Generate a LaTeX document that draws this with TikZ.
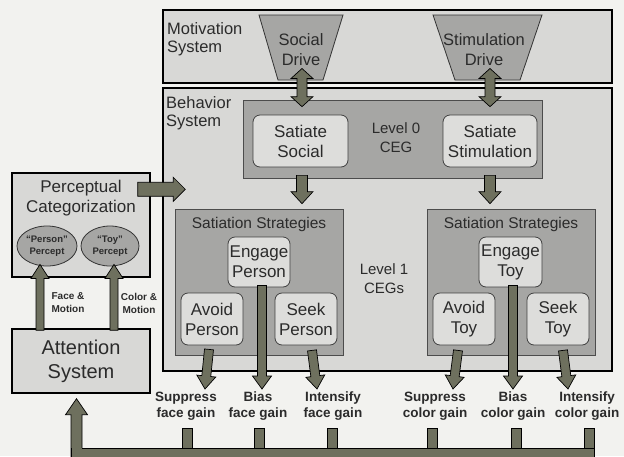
\documentclass[tikz,border=0pt]{standalone}
\usepackage{fontspec}
\setmainfont{Liberation Sans}
\usetikzlibrary{calc,shapes.geometric,positioning}

\definecolor{pagebg}{HTML}{F2F2EF}
\definecolor{sysgray}{HTML}{D8D8D6}
\definecolor{cegray}{HTML}{A6A6A4}
\definecolor{behgray}{HTML}{DDDDDB}
\definecolor{arrowfill}{HTML}{6E705E}
\definecolor{inkgray}{HTML}{2B2B2B}

\tikzset{
  sysbox/.style={draw=black, line width=1.4pt, fill=sysgray, inner sep=0pt},
  cegbox/.style={draw=black!70, line width=0.7pt, fill=cegray, inner sep=0pt},
  behbox/.style={draw=black!75, line width=0.8pt, fill=behgray, rounded corners=7pt,
    inner sep=0pt, align=center, text=inkgray, font=\fontsize{17}{20}\selectfont},
  drive/.style={draw=black!80, line width=0.8pt, fill=cegray},
  percept/.style={ellipse, draw=black!80, line width=0.8pt, fill=cegray, inner sep=0pt,
    align=center, text=inkgray, font=\bfseries\fontsize{9.5}{12}\selectfont},
  heading/.style={inner sep=0pt, align=left, text=inkgray, font=\fontsize{16.5}{18}\selectfont},
  drivetxt/.style={inner sep=0pt, align=center, text=inkgray, font=\fontsize{16.5}{20}\selectfont},
  ceglbl/.style={inner sep=0pt, align=center, text=inkgray, font=\fontsize{15}{19}\selectfont},
  strattitle/.style={inner sep=0pt, text=inkgray, font=\fontsize{15.5}{18}\selectfont},
  gainlbl/.style={inner sep=0pt, align=center, text=inkgray, font=\bfseries\fontsize{13.5}{16}\selectfont},
  pathlbl/.style={inner sep=0pt, align=center, text=inkgray, font=\bfseries\fontsize{10}{13}\selectfont},
  fatarrow/.style={fill=arrowfill, draw=black, line width=0.7pt, line join=miter}
}

% fat arrow: start, tip, shaft half width, head half width, head length
\newcommand{\fatarrow}[5]{%
  \coordinate (fa-a) at (#1);
  \coordinate (fa-e) at (#2);
  \coordinate (fa-b) at ($(fa-e)!#5!(fa-a)$);
  \filldraw[fatarrow] ($(fa-a)!#3!90:(fa-e)$) -- ($(fa-b)!#3!-90:(fa-a)$)
    -- ($(fa-b)!#4!-90:(fa-a)$) -- (fa-e) -- ($(fa-b)!#4!90:(fa-a)$)
    -- ($(fa-b)!#3!90:(fa-a)$) -- ($(fa-a)!#3!-90:(fa-e)$) -- cycle;}

% double headed fat arrow
\newcommand{\dblarrow}[5]{%
  \coordinate (fa-a) at (#1);
  \coordinate (fa-e) at (#2);
  \coordinate (fa-b) at ($(fa-e)!#5!(fa-a)$);
  \coordinate (fa-c) at ($(fa-a)!#5!(fa-e)$);
  \filldraw[fatarrow] (fa-a) -- ($(fa-c)!#4!90:(fa-e)$) -- ($(fa-c)!#3!90:(fa-e)$)
    -- ($(fa-b)!#3!-90:(fa-a)$) -- ($(fa-b)!#4!-90:(fa-a)$) -- (fa-e)
    -- ($(fa-b)!#4!90:(fa-a)$) -- ($(fa-b)!#3!90:(fa-a)$)
    -- ($(fa-c)!#3!-90:(fa-e)$) -- ($(fa-c)!#4!-90:(fa-e)$) -- cycle;}

\begin{document}
\begin{tikzpicture}[x=1pt,y=-1pt]
    % Page
    \fill[pagebg] (0,0) rectangle (624,456);
    \useasboundingbox (0,0) rectangle (624,456);

    % Systems
    \node[sysbox, minimum width=449pt, minimum height=73pt] (motiv) at (387.5,46.5) {};
    \node[sysbox, minimum width=449pt, minimum height=283pt] (behav) at (387.5,229.5) {};
    \node[sysbox, minimum width=138pt, minimum height=104pt] (percat) at (81,225) {};
    \node[sysbox, minimum width=138pt, minimum height=64pt, align=center, text=inkgray,
      font=\fontsize{20}{24}\selectfont] (attn) at (81,361) {Attention\\System};
    \node[heading, anchor=north west] (motivlbl) at (167,22) {Motivation\\System};
    \node[heading, anchor=north west] (behavlbl) at (166,96) {Behavior\\System};

    % Drives
    \draw[drive] (259,15) -- (343,15) -- (323,80) -- (278,80) -- cycle;
    \draw[drive] (433,15) -- (542,15) -- (520,80) -- (455,80) -- cycle;
    \node[drivetxt] (socdrive) at (301,49.5) {Social\\Drive};
    \node[drivetxt] (stimdrive) at (484,49.5) {Stimulation\\Drive};

    % Level 0
    \node[cegbox, minimum width=299pt, minimum height=78pt] (level0) at (392.5,139) {};
    \node[behbox, minimum width=95pt, minimum height=52pt] (satsoc) at (300.5,141) {Satiate\\Social};
    \node[behbox, minimum width=94pt, minimum height=52pt] (satstim) at (490,141) {Satiate\\Stimulation};
    \node[ceglbl] (lvl0lbl) at (396,138) {Level 0\\CEG};

    % Level 1
    \node[cegbox, minimum width=168pt, minimum height=146pt] (stratp) at (259,282) {};
    \node[cegbox, minimum width=168pt, minimum height=146pt] (stratt) at (511,282) {};
    \node[strattitle, anchor=north] (stratplbl) at ($(stratp.north)+(0,8)$) {Satiation Strategies};
    \node[strattitle, anchor=north] (strattlbl) at ($(stratt.north)+(0,8)$) {Satiation Strategies};
    \node[behbox, minimum width=62pt, minimum height=50pt] (engp) at (259,262) {Engage\\Person};
    \node[behbox, minimum width=62pt, minimum height=52pt] (avoidp) at (212,319) {Avoid\\Person};
    \node[behbox, minimum width=62pt, minimum height=52pt] (seekp) at (306,319) {Seek\\Person};
    \node[behbox, minimum width=63pt, minimum height=50pt] (engt) at (510.5,262) {Engage\\Toy};
    \node[behbox, minimum width=62pt, minimum height=52pt] (avoidt) at (464,319) {Avoid\\Toy};
    \node[behbox, minimum width=62pt, minimum height=52pt] (seekt) at (558,319) {Seek\\Toy};
    \node[ceglbl] (lvl1lbl) at (384,279) {Level 1\\CEGs};

    % Perception
    \node[drivetxt, font=\fontsize{17}{20}\selectfont] (percatlbl) at (81,198) {Perceptual\\Categorization};
    \node[percept, minimum width=60pt, minimum height=40pt] (person) at (47,246) {“Person”\\Percept};
    \node[percept, minimum width=58pt, minimum height=40pt] (toy) at (110,246) {“Toy”\\Percept};
    \node[pathlbl] (facelbl) at (68,303) {Face \&\\Motion};
    \node[pathlbl] (colorlbl) at (139,303) {Color \&\\Motion};

    % Gains
    \node[gainlbl, anchor=north] (supf) at (186,392) {Suppress\\face gain};
    \node[gainlbl, anchor=north] (biasf) at (258,392) {Bias\\face gain};
    \node[gainlbl, anchor=north] (intf) at (333,392) {Intensify\\face gain};
    \node[gainlbl, anchor=north] (supc) at (435,392) {Suppress\\color gain};
    \node[gainlbl, anchor=north] (biasc) at (513,392) {Bias\\color gain};
    \node[gainlbl, anchor=north] (intc) at (587,392) {Intensify\\color gain};

    % Arrows
    \dblarrow{$(socdrive)+(1,19)$}{$(level0.north -| socdrive)+(1,7)$}{5pt}{11pt}{10pt}
    \dblarrow{$(stimdrive)+(6,19)$}{$(level0.north -| stimdrive)+(6,7)$}{5pt}{11pt}{10pt}
    \fatarrow{$(level0.south -| satsoc)+(1.5,-3)$}{$(stratp.north -| satsoc)+(1.5,-5)$}{5.5pt}{11pt}{12pt}
    \fatarrow{$(level0.south -| satstim)+(0,-3)$}{$(stratt.north -| satstim)+(0,-5)$}{5.5pt}{11pt}{12pt}
    \fatarrow{$(percat.north east)+(-13,17)$}{$(behav.west |- percat.north)+(23,17)$}{7pt}{12pt}{12pt}
    \fatarrow{$(attn.north -| person)+(-7,2)$}{$(person.south)+(-7,-2)$}{4pt}{9pt}{14pt}
    \fatarrow{$(attn.north -| toy)+(4,2)$}{$(toy.south)+(4,-2)$}{4pt}{9pt}{14pt}
    \fatarrow{$(avoidp.south)+(-3,4)$}{$(supf.north)+(19,-3)$}{4.5pt}{9.5pt}{13pt}
    \fatarrow{$(engp.south)+(3,-2)$}{$(biasf.north)+(4,-3)$}{4.5pt}{9.5pt}{13pt}
    \fatarrow{$(seekp.south)+(6,5)$}{$(intf.north)+(-16,-3)$}{4.5pt}{9.5pt}{13pt}
    \fatarrow{$(avoidt.south)+(-6,5)$}{$(supc.north)+(18,-3)$}{4.5pt}{9.5pt}{13pt}
    \fatarrow{$(engt.south)+(2.5,-2)$}{$(biasc.north)+(0,-3)$}{4.5pt}{9.5pt}{13pt}
    \fatarrow{$(seekt.south)+(5,5)$}{$(intc.north)+(-19,-3)$}{4.5pt}{9.5pt}{13pt}

    % Gain bus
    \foreach \g/\dx in {supf/1,biasf/1,intf/-1,supc/-3,biasc/3,intc/2}
      \filldraw[fatarrow] ($(\g.north)+(\dx-5,36)$) rectangle ++(10,22);
    \fatarrow{$(attn.south)+(-4.5,66)$}{$(attn.south)+(-4.5,5)$}{5.5pt}{11pt}{16pt}
    \fill[arrowfill] (71,448) rectangle (594,462);
    \draw[line width=0.7pt] (71,448) -- (71,462) (82,448) -- (594,448) -- (594,462);
\end{tikzpicture}
\end{document}
